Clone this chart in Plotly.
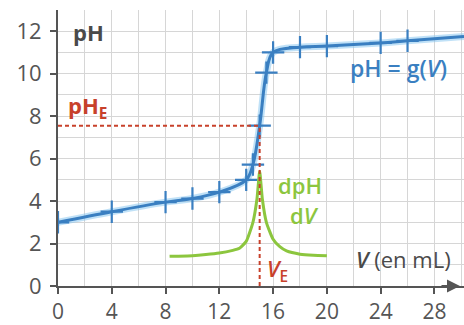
import plotly.graph_objects as go

# Titration data (pH vs V)
V_meas = [0, 4, 8, 10, 12, 14, 14.5, 15, 15.5, 16, 18, 20, 24, 26]
pH_meas = [3.0, 3.5, 3.95, 4.12, 4.42, 5.0, 5.72, 7.55, 10.05, 11.0, 11.25, 11.3, 11.45, 11.55]
V_line_end = [30.2]
pH_line_end = [11.75]

# Derivative curve dpH/dV (arbitrary scale)
V_deriv = [8.3, 10, 11, 12, 13, 13.5, 14, 14.5, 14.8, 15, 15.2, 15.5, 16, 16.5, 17, 18, 19, 20]
d_deriv = [1.4, 1.43, 1.48, 1.55, 1.68, 1.78, 2.1, 3.0, 4.1, 5.4, 4.1, 3.0, 2.2, 1.85, 1.65, 1.5, 1.45, 1.43]

# Equivalence point
VE = 15
pHE = 7.55

x_ticks = [0, 4, 8, 12, 16, 20, 24, 28]
y_ticks = [0, 2, 4, 6, 8, 10, 12]

BLUE = "#3a7fc1"
GLOW = "rgba(140,200,240,0.55)"
GREEN = "#8cc63e"
RED = "#c8412b"
DARK = "#4a4a4a"
FONT = "Open Sans"

fig = go.Figure()

V_line = V_meas + V_line_end
pH_line = pH_meas + pH_line_end

# glow under the blue curve
fig.add_trace(go.Scatter(x=V_line, y=pH_line, mode="lines",
                         line=dict(color=GLOW, width=7, shape="spline", smoothing=1.0),
                         hoverinfo="skip", showlegend=False))
fig.add_trace(go.Scatter(x=V_line, y=pH_line, mode="lines",
                         line=dict(color=BLUE, width=3, shape="spline", smoothing=1.0),
                         showlegend=False))
fig.add_trace(go.Scatter(x=V_meas, y=pH_meas, mode="markers",
                         marker=dict(symbol="cross-thin", size=16,
                                     line=dict(color=BLUE, width=2.2)),
                         showlegend=False))

# derivative curve
fig.add_trace(go.Scatter(x=V_deriv, y=d_deriv, mode="lines",
                         line=dict(color=GREEN, width=3, shape="spline", smoothing=0.5),
                         showlegend=False))

# equivalence dashed lines
fig.add_trace(go.Scatter(x=[0, VE], y=[pHE, pHE], mode="lines",
                         line=dict(color=RED, width=2, dash="4px,3px"), showlegend=False))
fig.add_trace(go.Scatter(x=[VE, VE], y=[0, pHE], mode="lines",
                         line=dict(color=RED, width=2, dash="4px,3px"), showlegend=False))

ann = []
def txt(x, y, t, color, size=22, xanchor="center", weight=600):
    ann.append(dict(x=x, y=y, xref="x", yref="y", text=t, showarrow=False,
                    font=dict(family=FONT, size=size, color=color, weight=weight),
                    xanchor=xanchor, yanchor="middle"))

txt(2.3, 11.95, "pH", DARK, size=22, weight=700)
txt(2.2, 8.45, "pH<sub>E</sub>", RED, size=22, weight=700)
txt(25.3, 10.25, "pH = g(<i>V</i>)", BLUE, size=23)
txt(18.0, 4.74, "dpH", GREEN, size=22)
txt(18.3, 3.33, "d<i>V</i>", GREEN, size=22)
txt(16.3, 0.74, "<i>V</i><sub>E</sub>", RED, size=22)
txt(25.7, 1.25, "<i>V</i><span style='font-weight:400'> (en mL)</span>", DARK, size=22)

# axis arrows
ann.append(dict(x=0, y=13.25, xref="x", yref="y", ax=0, ay=20, axref="pixel", ayref="pixel",
                showarrow=True, arrowhead=2, arrowsize=1.3, arrowwidth=2, arrowcolor="#555", text=""))
ann.append(dict(x=29.9, y=0, xref="x", yref="y", ax=-20, ay=0, axref="pixel", ayref="pixel",
                showarrow=True, arrowhead=2, arrowsize=1.3, arrowwidth=2, arrowcolor="#555", text=""))

fig.update_layout(
    width=464, height=325,
    margin=dict(l=58, r=0, t=10, b=39, autoexpand=False),
    paper_bgcolor="white", plot_bgcolor="white",
    annotations=ann,
    font=dict(family=FONT, color="#555"),
)
fig.update_xaxes(range=[0, 30.2], tickvals=x_ticks, ticktext=[str(v) for v in x_ticks],
                 automargin=False,
                 showgrid=True, gridcolor="#d6d6d6", gridwidth=1,
                 minor=dict(dtick=2, tick0=0, showgrid=True, gridcolor="#d6d6d6", gridwidth=1),
                 showline=True, linecolor="#555", linewidth=2,
                 ticks="outside", ticklen=6, tickwidth=2, tickcolor="#555",
                 ticklabelstandoff=0,
                 tickfont=dict(family=FONT, size=21, color="#555"),
                 zeroline=False, fixedrange=True)
fig.update_yaxes(range=[0, 13], tickvals=y_ticks, ticktext=[str(v) for v in y_ticks],
                 automargin=False,
                 showgrid=True, gridcolor="#d6d6d6", gridwidth=1,
                 minor=dict(dtick=1, tick0=0, showgrid=True, gridcolor="#d6d6d6", gridwidth=1),
                 showline=True, linecolor="#555", linewidth=2,
                 ticks="outside", ticklen=6, tickwidth=2, tickcolor="#555",
                 ticklabelstandoff=4,
                 tickfont=dict(family=FONT, size=22, color="#555"),
                 zeroline=False, fixedrange=True)

fig.write_html("out.html")
